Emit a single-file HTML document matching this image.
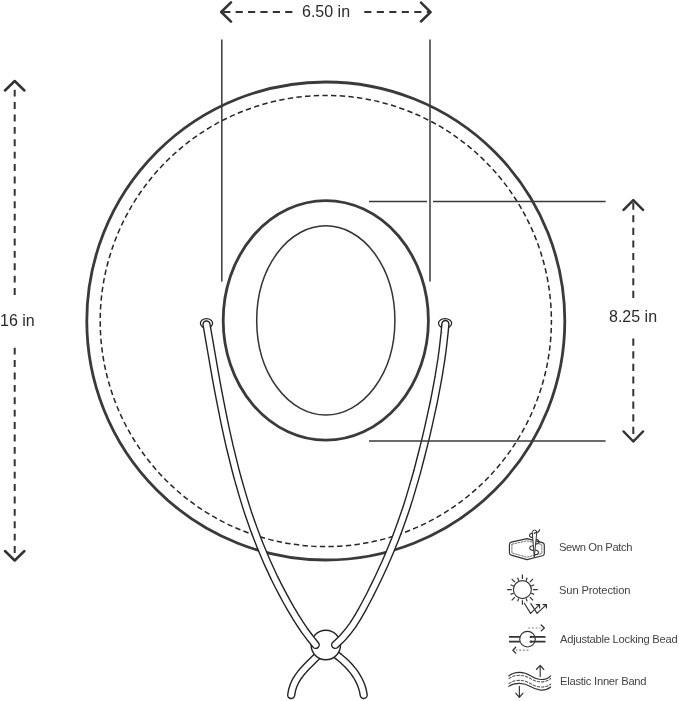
<!DOCTYPE html>
<html><head><meta charset="utf-8">
<style>
html,body{margin:0;padding:0;background:#fff;}
body{width:679px;height:701px;overflow:hidden;position:relative;font-family:"Liberation Sans",sans-serif;}
svg{position:absolute;left:0;top:0;}
.t{position:absolute;white-space:nowrap;color:#333;line-height:1;will-change:transform;}
.big{font-size:16px;color:#2a2a2a;}
.lg{font-size:11.2px;color:#444;}
</style></head><body>
<svg width="679" height="701" viewBox="0 0 679 701">
<g fill="none" stroke="#333" stroke-linecap="round" stroke-linejoin="round">
<path d="M231 2.3 L221.2 12 L231 21.7 M430.6 12.1 L421 2.6 M430.6 12.1 L421 21.5" stroke-width="2.5"/>
<line x1="222" y1="12" x2="293" y2="12" stroke-width="2" stroke-dasharray="7.2 5.2" stroke-dashoffset="-1.2" stroke-linecap="butt"/>
<line x1="364.3" y1="12" x2="430" y2="12" stroke-width="2" stroke-dasharray="7.1 5.4" stroke-linecap="butt"/>
<path d="M5 90.5 L14.7 81 L24.4 90.5 M5 551 L14.7 560.5 L24.4 551" stroke-width="2.5"/>
<line x1="14.7" y1="89.7" x2="14.7" y2="296" stroke-width="2" stroke-dasharray="6.9 5.5" stroke-linecap="butt"/>
<line x1="14.7" y1="553" x2="14.7" y2="346.2" stroke-width="2" stroke-dasharray="6.9 5.5" stroke-linecap="butt"/>
<path d="M623.6 209.9 L633.3 200.2 L643 209.9 M623.6 431.5 L633.3 441.5 L643 431.5" stroke-width="2.5"/>
<line x1="633.3" y1="202.6" x2="633.3" y2="298.5" stroke-width="2" stroke-dasharray="7.1 5.5" stroke-linecap="butt"/>
<line x1="633.3" y1="338.6" x2="633.3" y2="440" stroke-width="2" stroke-dasharray="7.2 5.4" stroke-linecap="butt"/>
<line x1="221.8" y1="39.5" x2="221.8" y2="281.5" stroke-width="1.6" stroke="#444" stroke-linecap="butt"/>
<line x1="430" y1="39.5" x2="430" y2="281.5" stroke-width="1.6" stroke="#444" stroke-linecap="butt"/>
<circle cx="325.8" cy="321" r="239" stroke-width="2.8" stroke="#3a3a3a"/>
<circle cx="325.8" cy="321" r="225.6" stroke-width="1.5" stroke="#262626" stroke-dasharray="5.4 3.2963" stroke-dashoffset="1.7" stroke-linecap="butt"/>
<ellipse cx="325.8" cy="320.4" rx="102.6" ry="119.75" stroke-width="2.8" stroke="#3a3a3a"/>
<ellipse cx="325.8" cy="320.4" rx="69.1" ry="94.55" stroke-width="1.5" stroke="#333"/>
<ellipse cx="206.5" cy="323.3" rx="6.1" ry="4.75" stroke-width="1.25" stroke="#222" fill="#fff"/>
<ellipse cx="445.1" cy="323.3" rx="6.6" ry="4.75" stroke-width="1.25" stroke="#222" fill="#fff"/>
<path d="M321.5 652.0 L318.1 655.4 L314.6 658.8 L311.1 662.3 L307.6 665.7 L304.2 669.3 L301.0 673.0 L298.1 676.9 L295.6 681.0 L293.6 685.3 L292.1 690.0 L291.2 695.0" stroke="#222" stroke-width="8.4"/>
<path d="M321.5 652.0 L318.1 655.4 L314.6 658.8 L311.1 662.3 L307.6 665.7 L304.2 669.3 L301.0 673.0 L298.1 676.9 L295.6 681.0 L293.6 685.3 L292.1 690.0 L291.2 695.0" stroke="#fff" stroke-width="5.6"/>
<path d="M331.0 651.0 L335.2 653.9 L339.3 657.1 L343.2 660.4 L346.9 663.9 L350.4 667.7 L353.7 671.6 L356.5 675.8 L359.0 680.2 L361.1 684.9 L362.7 689.8 L363.7 695.0" stroke="#222" stroke-width="8.4"/>
<path d="M331.0 651.0 L335.2 653.9 L339.3 657.1 L343.2 660.4 L346.9 663.9 L350.4 667.7 L353.7 671.6 L356.5 675.8 L359.0 680.2 L361.1 684.9 L362.7 689.8 L363.7 695.0" stroke="#fff" stroke-width="5.6"/>
<circle cx="325.8" cy="645" r="14.7" stroke="#222" stroke-width="1.4" fill="#fff"/>
<path d="M206.5 324.5 L208.0 333.1 L209.5 341.7 L211.0 350.4 L212.5 359.0 L214.0 367.7 L215.5 376.3 L217.1 385.0 L218.7 393.6 L220.4 402.2 L222.1 410.8 L223.8 419.4 L225.6 428.0 L227.5 436.6 L229.4 445.2 L231.5 453.7 L233.6 462.2 L235.7 470.7 L238.0 479.2 L240.4 487.6 L242.9 496.1 L245.4 504.4 L248.1 512.8 L251.0 521.1 L253.9 529.3 L257.0 537.5 L260.2 545.7 L263.6 553.8 L267.0 561.9 L270.7 569.9 L274.4 577.9 L278.3 585.7 L282.4 593.5 L286.6 601.3 L290.9 608.9 L295.4 616.4 L300.1 623.8 L305.0 631.1 L310.2 638.1 L315.7 644.9" stroke="#222" stroke-width="8.4"/>
<path d="M206.5 324.5 L208.0 333.1 L209.5 341.7 L211.0 350.4 L212.5 359.0 L214.0 367.7 L215.5 376.3 L217.1 385.0 L218.7 393.6 L220.4 402.2 L222.1 410.8 L223.8 419.4 L225.6 428.0 L227.5 436.6 L229.4 445.2 L231.5 453.7 L233.6 462.2 L235.7 470.7 L238.0 479.2 L240.4 487.6 L242.9 496.1 L245.4 504.4 L248.1 512.8 L251.0 521.1 L253.9 529.3 L257.0 537.5 L260.2 545.7 L263.6 553.8 L267.0 561.9 L270.7 569.9 L274.4 577.9 L278.3 585.7 L282.4 593.5 L286.6 601.3 L290.9 608.9 L295.4 616.4 L300.1 623.8 L305.0 631.1 L310.2 638.1 L315.7 644.9" stroke="#fff" stroke-width="5.6"/>
<path d="M445.4 324.0 L444.6 332.8 L443.6 341.6 L442.6 350.3 L441.4 359.1 L440.0 367.8 L438.6 376.5 L437.0 385.2 L435.4 393.8 L433.7 402.5 L431.8 411.1 L429.9 419.8 L428.0 428.4 L426.0 437.0 L423.9 445.5 L421.7 454.1 L419.5 462.6 L417.3 471.2 L414.9 479.7 L412.4 488.1 L409.9 496.6 L407.3 505.0 L404.5 513.4 L401.6 521.7 L398.6 530.0 L395.5 538.2 L392.2 546.4 L388.8 554.6 L385.3 562.7 L381.6 570.7 L377.9 578.7 L374.0 586.7 L370.1 594.6 L366.0 602.4 L361.8 610.2 L357.4 617.8 L352.7 625.2 L347.4 632.2 L341.7 638.8 L335.2 644.9" stroke="#222" stroke-width="8.4"/>
<path d="M445.4 324.0 L444.6 332.8 L443.6 341.6 L442.6 350.3 L441.4 359.1 L440.0 367.8 L438.6 376.5 L437.0 385.2 L435.4 393.8 L433.7 402.5 L431.8 411.1 L429.9 419.8 L428.0 428.4 L426.0 437.0 L423.9 445.5 L421.7 454.1 L419.5 462.6 L417.3 471.2 L414.9 479.7 L412.4 488.1 L409.9 496.6 L407.3 505.0 L404.5 513.4 L401.6 521.7 L398.6 530.0 L395.5 538.2 L392.2 546.4 L388.8 554.6 L385.3 562.7 L381.6 570.7 L377.9 578.7 L374.0 586.7 L370.1 594.6 L366.0 602.4 L361.8 610.2 L357.4 617.8 L352.7 625.2 L347.4 632.2 L341.7 638.8 L335.2 644.9" stroke="#fff" stroke-width="5.6"/>
<path d="M369 201.6 H427 M433 201.6 H605.6" stroke-width="1.5" stroke="#3a3a3a" stroke-linecap="butt"/>
<line x1="369" y1="440.9" x2="605.6" y2="440.9" stroke-width="1.5" stroke="#3a3a3a" stroke-linecap="butt"/>
</g>
<g fill="none" stroke="#333" stroke-width="1.15" stroke-linecap="round" stroke-linejoin="round">
  <!-- sewn patch -->
  <path d="M511.3 542.1 L527 538.6 L542.4 542.6 Q544.3 543.1 544.3 545 L544.3 553.6 Q544.3 555.3 542.5 555.7 L527 559.6 L511.3 555.1 Q509.4 554.6 509.4 552.7 L509.4 544.4 Q509.4 542.5 511.3 542.1 Z"/>
  <path d="M511.9 544.2 L527 540.8 L541.8 544.5 L541.9 553.4 L527 557.2 L511.9 553 Z" stroke="#5a5a5a" stroke-width="0.85" stroke-dasharray="1.7 1.4"/>
  <path d="M533.6 533.2 C528.2 532.6 528.2 538.2 533.4 537.6"/>
  <path d="M535.3 539.3 C540.2 539 540.2 544.6 535.1 544.2"/>
  <path d="M533.7 545.8 C528.4 545.3 528.4 550.8 533.8 550.4"/>
  <path d="M534.4 550 C539.8 549.8 539.8 555 534.6 554.6"/>
  <path d="M532.3 532.3 A2.25 2.25 0 0 1 536.8 532.3 L534.3 556.6 Z" fill="#fff" stroke-width="1"/>
  <circle cx="534.5" cy="533.2" r="0.8" fill="#333" stroke="none"/>
  <path d="M535.4 532.6 C537.6 532.6 539.3 531.6 539.6 529.6"/>
  <!-- sun -->
  <circle cx="522.4" cy="589.6" r="9"/>
  <g stroke-linecap="butt" stroke-width="1.2">
    <path d="M533 589.6 H537.7 M511.8 589.6 H507.1 M522.4 579 V574.4 M522.4 600.2 V604.8 M529.9 582.1 L533.1 578.9 M514.9 582.1 L511.7 578.9 M514.9 597.1 L511.7 600.3 M529.9 597.1 L533.1 600.3"/>
    <path d="M531.2 586.0 L534.2 584.8 M513.6 586.0 L510.6 584.8 M513.6 593.2 L510.6 594.4 M531.2 593.2 L534.2 594.4 M526 580.8 L527.2 577.8 M518.8 580.8 L517.6 577.8 M518.8 598.4 L517.6 601.4 M526 598.4 L527.2 601.4"/>
  </g>
  <path d="M524.3 603.2 L530.6 613.4 L539.6 604.6 M536.2 604.6 H539.6 V607.9"/>
  <path d="M530.9 603.6 L537.1 613.4 L546.4 604.6 M543 604.6 H546.4 V607.9"/>
  <!-- bead -->
  <circle cx="527.5" cy="639.2" r="7.8"/>
  <path d="M509 636.9 H519.9 M509 641.7 H519.9" stroke-width="1.7" stroke-linecap="butt"/>
  <path d="M530.5 636.9 H544.8 M530.5 641.7 H544.8" stroke-width="1.7" stroke-linecap="round"/>
  <circle cx="531" cy="636.9" r="1.15" fill="#333" stroke="none"/><circle cx="531" cy="641.7" r="1.15" fill="#333" stroke="none"/>
  <path d="M528.2 628 H540.5 M528.5 650.2 H516" stroke="#888" stroke-width="1.2" stroke-dasharray="2 1.7" stroke-linecap="butt"/>
  <path d="M541.2 625 L544.3 628 L541.2 630.9 M515.7 647.2 L512.9 650.2 L515.7 653.1" stroke-width="1.3"/>
  <!-- elastic band -->
  <path d="M508.7 676 C515 671 524 671.5 530.5 675.8 C536.5 680 545 681.5 550.7 675.8"/>
  <path d="M508.7 686.4 C515 682 524 682.5 530.5 686.6 C536.5 690.5 545 691.8 550.7 687"/>
  <path d="M509 678.6 C515 674 524 674.5 530.5 678.6 C536.5 682.5 545 683.5 550.7 678.4" stroke="#555" stroke-width="1.1" stroke-dasharray="2.4 1.9"/>
  <path d="M509 683.6 C515 679 524 679.5 530.5 683.6 C536.5 687.5 545 688.5 550.7 684.2" stroke="#555" stroke-width="1.1" stroke-dasharray="2.4 1.9"/>
  <path d="M540.2 676.4 V665.6 M536.4 669.5 L540.2 665.4 L543.8 669.5"/>
  <path d="M519.4 686.4 V697.2 M515.7 693.1 L519.4 697.4 L523 693.1"/>
</g>

</svg>
<div class="t big" style="left:302px;top:4px;">6.50 in</div>
<div class="t big" style="left:0px;top:312.7px;">16 in</div>
<div class="t big" style="left:609px;top:309px;">8.25 in</div>
<div class="t lg" style="left:559px;top:541.8px;letter-spacing:-0.35px;">Sewn On Patch</div>
<div class="t lg" style="left:559px;top:584.8px;letter-spacing:-0.15px;">Sun Protection</div>
<div class="t lg" style="left:559.5px;top:634.3px;letter-spacing:-0.25px;">Adjustable Locking Bead</div>
<div class="t lg" style="left:559.5px;top:675.5px;letter-spacing:-0.25px;">Elastic Inner Band</div>
</body></html>
